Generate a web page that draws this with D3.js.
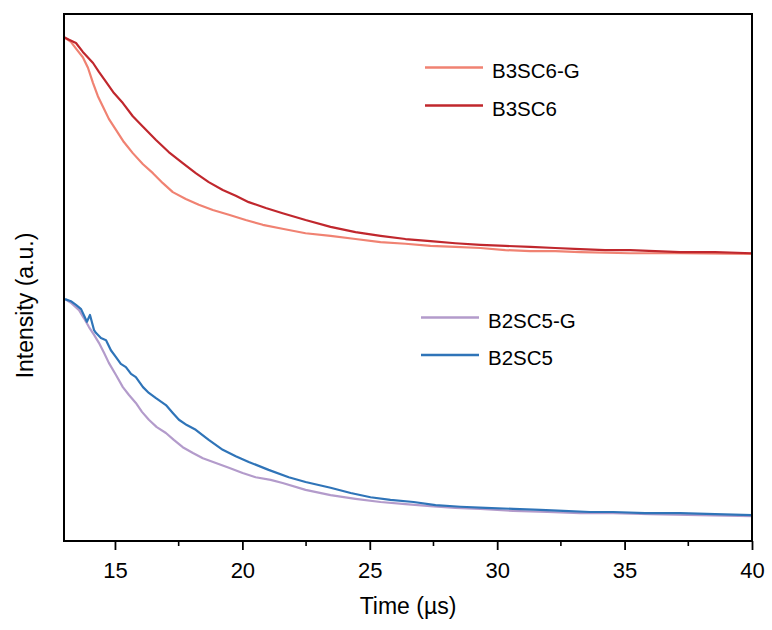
<!DOCTYPE html>
<html>
<head>
<meta charset="utf-8">
<script src="https://cdn.jsdelivr.net/npm/d3@7.9.0/dist/d3.min.js"></script>
<style>
  body { margin: 0; background: #fff; }
  svg { font-family: "Liberation Sans", Arial, sans-serif; }
</style>
</head>
<body>
<svg id="chart" width="772" height="630"></svg>
<script>
// time (µs) and normalised intensity
const b3sc6T = [13.00,13.20,13.47,13.74,14.14,14.37,14.65,14.96,15.31,15.70,16.10,16.61,17.11,17.66,18.17,18.68,19.23,19.74,20.25,20.92,21.58,22.48,23.46,24.44,25.42,26.40,27.38,28.36,29.34,30.32,31.30,32.28,33.26,34.24,35.22,36.20,37.18,38.55,40.00];
const b3sc6I = [0.956,0.951,0.945,0.928,0.907,0.890,0.871,0.850,0.831,0.806,0.786,0.761,0.738,0.717,0.698,0.681,0.666,0.655,0.643,0.632,0.622,0.609,0.596,0.586,0.579,0.573,0.569,0.565,0.562,0.560,0.558,0.556,0.554,0.552,0.552,0.550,0.548,0.548,0.546];

const b3sc6gT = [13.00,13.27,13.51,13.74,13.94,14.14,14.33,14.53,14.76,15.04,15.35,15.70,16.10,16.49,16.88,17.27,17.78,18.29,18.84,19.47,20.13,20.80,21.62,22.48,23.46,24.44,25.42,26.40,27.38,28.36,29.34,30.32,31.30,32.28,33.26,35.22,37.18,40.00];
const b3sc6gI = [0.956,0.947,0.932,0.918,0.898,0.869,0.844,0.824,0.801,0.780,0.757,0.736,0.715,0.698,0.679,0.662,0.649,0.638,0.628,0.619,0.609,0.600,0.592,0.584,0.579,0.573,0.567,0.564,0.560,0.558,0.556,0.552,0.550,0.550,0.548,0.546,0.546,0.545];

const b2sc5T = [13.04,13.27,13.47,13.67,13.90,14.02,14.18,14.25,14.45,14.65,14.84,15.04,15.23,15.43,15.63,15.82,16.10,16.33,16.61,17.00,17.27,17.51,17.82,18.17,18.68,19.23,19.74,20.25,21.03,21.82,22.48,23.46,24.25,25.03,25.81,26.72,27.58,28.56,29.54,30.63,31.69,32.59,33.65,34.55,35.81,37.18,38.55,40.00];
const b2sc5I = [0.459,0.455,0.448,0.440,0.416,0.429,0.400,0.395,0.385,0.381,0.362,0.349,0.336,0.330,0.317,0.311,0.292,0.281,0.271,0.258,0.243,0.230,0.220,0.211,0.192,0.173,0.161,0.150,0.135,0.121,0.112,0.101,0.091,0.083,0.078,0.074,0.068,0.065,0.063,0.061,0.059,0.057,0.055,0.055,0.053,0.053,0.051,0.049];

const b2sc5gT = [13.04,13.27,13.59,13.78,13.98,14.18,14.37,14.57,14.76,15.04,15.31,15.55,15.82,16.06,16.33,16.64,17.00,17.31,17.66,18.06,18.45,18.96,19.47,20.01,20.52,21.11,21.58,22.48,23.46,24.44,25.42,26.40,27.38,28.36,29.34,30.63,31.97,33.26,34.55,36.00,37.96,40.00];
const b2sc5gI = [0.459,0.452,0.438,0.423,0.406,0.391,0.376,0.357,0.338,0.315,0.292,0.277,0.262,0.245,0.230,0.216,0.205,0.192,0.178,0.167,0.157,0.148,0.139,0.129,0.121,0.116,0.110,0.097,0.087,0.080,0.074,0.070,0.066,0.063,0.061,0.057,0.055,0.053,0.053,0.051,0.049,0.047];

const seriesNames = ["B3SC6-G", "B3SC6", "B2SC5-G", "B2SC5"];
const seriesColors = ["#f08272", "#c0272d", "#b39bcb", "#2f74b8"];
const majorTicks = [15, 20, 25, 30, 35, 40];
const minorTicks = [17.5, 22.5, 27.5, 32.5, 37.5];

const series = [
  { name: seriesNames[0], t: b3sc6gT, v: b3sc6gI, color: seriesColors[0] },
  { name: seriesNames[1], t: b3sc6T, v: b3sc6I, color: seriesColors[1] },
  { name: seriesNames[2], t: b2sc5gT, v: b2sc5gI, color: seriesColors[2] },
  { name: seriesNames[3], t: b2sc5T, v: b2sc5I, color: seriesColors[3] }
];

const svg = d3.select("#chart");
const m = { left: 64, right: 752, top: 14, bottom: 541 };

const x = d3.scaleLinear().domain([13, 40]).range([m.left, m.right]);
const y = d3.scaleLinear().domain([0, 1]).range([m.bottom, m.top]);

const line = d3.line().x(d => x(d[0])).y(d => y(d[1]));

// data lines, light ones first so the dark ones sit on top
series.forEach(s => {
  svg.append("path")
    .datum(s.t.map((t, j) => [t, s.v[j]]))
    .attr("d", line)
    .attr("fill", "none")
    .attr("stroke", s.color)
    .attr("stroke-width", 2.2)
    .attr("stroke-linejoin", "round");
});

// frame
svg.append("rect")
  .attr("x", m.left).attr("y", m.top)
  .attr("width", m.right - m.left).attr("height", m.bottom - m.top)
  .attr("fill", "none")
  .attr("stroke", "#000")
  .attr("stroke-width", 2);

// bottom axis
const xAxis = svg.append("g").attr("transform", `translate(0,${m.bottom})`);
xAxis.call(d3.axisBottom(x).tickValues(majorTicks).tickSize(9).tickSizeOuter(0).tickPadding(12))
  .call(g => g.select(".domain").remove())
  .call(g => g.selectAll("line").attr("stroke-width", 1.8))
  .call(g => g.selectAll("text").attr("font-size", 22).attr("font-family", "Liberation Sans, Arial, sans-serif").attr("fill", "#000"));

xAxis.selectAll(".minor")
  .data(minorTicks)
  .join("line")
  .attr("class", "minor")
  .attr("x1", d => x(d)).attr("x2", d => x(d))
  .attr("y1", 0).attr("y2", 5)
  .attr("stroke", "#000")
  .attr("stroke-width", 1.6);

// axis titles
svg.append("text")
  .attr("x", (m.left + m.right) / 2)
  .attr("y", 614)
  .attr("text-anchor", "middle")
  .attr("font-size", 23)
  .text("Time (µs)");

svg.append("text")
  .attr("transform", `translate(33,${(m.top + m.bottom) / 2 + 28}) rotate(-90)`)
  .attr("text-anchor", "middle")
  .attr("font-size", 23)
  .text("Intensity (a.u.)");

// legends
const legendRows = [
  { i: 0, x1: 425, x2: 483, y: 67.5 },
  { i: 1, x1: 425, x2: 483, y: 105.5 },
  { i: 2, x1: 421, x2: 479, y: 317.5 },
  { i: 3, x1: 421, x2: 479, y: 355 }
];
legendRows.forEach(r => {
  svg.append("line")
    .attr("x1", r.x1).attr("x2", r.x2)
    .attr("y1", r.y).attr("y2", r.y)
    .attr("stroke", series[r.i].color)
    .attr("stroke-width", 2.4);
  svg.append("text")
    .attr("x", r.x2 + 9)
    .attr("y", r.y + 10)
    .attr("font-size", 20.5)
    .text(series[r.i].name);
});
</script>
</body>
</html>
